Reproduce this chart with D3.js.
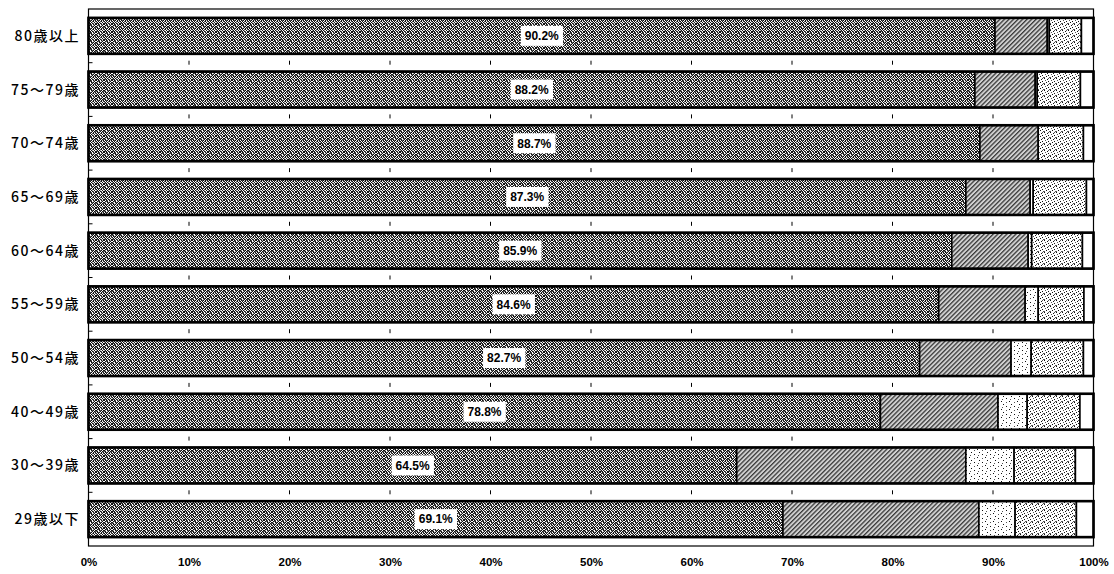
<!DOCTYPE html>
<html>
<head>
<meta charset="utf-8">
<script src="https://cdn.jsdelivr.net/npm/d3@7/dist/d3.min.js"></script>
<style>
  html, body { margin: 0; padding: 0; background: #fff; }
  svg { display: block; }
</style>
</head>
<body>
<svg id="chart" width="1114" height="574"></svg>
<script>
// Age groups, top to bottom
const categories = ["80歳以上", "75～79歳", "70～74歳", "65～69歳", "60～64歳",
                    "55～59歳", "50～54歳", "40～49歳", "30～39歳", "29歳以下"];

// Share of each response (%) per age group, left to right in each bar
const share1 = [90.2, 88.2, 88.7, 87.3, 85.9, 84.6, 82.7, 78.8, 64.5, 69.1];
const share2 = [5.2, 6.0, 5.8, 6.4, 7.6, 8.6, 9.1, 11.7, 22.8, 19.5];
const share3 = [0.2, 0.2, 0.0, 0.3, 0.35, 1.3, 2.0, 2.9, 4.8, 3.6];
const share4 = [3.2, 4.3, 4.5, 5.3, 5.05, 4.55, 5.2, 5.25, 6.1, 6.1];
const share5 = [1.2, 1.3, 1.0, 0.7, 1.1, 0.95, 1.0, 1.35, 1.8, 1.7];

const tickValues = [0, 10, 20, 30, 40, 50, 60, 70, 80, 90, 100];
const tickLabels = ["0%", "10%", "20%", "30%", "40%", "50%", "60%", "70%", "80%", "90%", "100%"];

const seriesList = [share1, share2, share3, share4, share5];
const fills = ["url(#pDark)", "url(#pHatch)", "url(#pSparse)", "url(#pDense)", "#ffffff"];

const svg = d3.select("#chart");
const plot = { left: 88.5, right: 1093.5, top: 9, bottom: 546 };

const x = d3.scaleLinear().domain([0, 100]).range([plot.left, plot.right]);
const y = d3.scaleBand().domain(categories).range([plot.top, plot.bottom])
  .paddingInner(0.33).paddingOuter(0.165);

// ---- fill textures ----
const defs = svg.append("defs");

// builds a pixel pattern from rows of characters: '#' black, '+' dark grey, '-' light grey, '.' white
function pixelPattern(id, rows, bg) {
  const w = rows[0].length, h = rows.length;
  const p = defs.append("pattern").attr("id", id)
    .attr("patternUnits", "userSpaceOnUse").attr("width", w).attr("height", h);
  p.append("rect").attr("width", w).attr("height", h).attr("fill", bg);
  const shade = { "#": "#111", "+": "#555", "-": "#b0b0b0", ".": "#fff" };
  rows.forEach((r, j) => r.split("").forEach((ch, i) => {
    if (shade[ch]) p.append("rect").attr("x", i).attr("y", j)
      .attr("width", 1).attr("height", 1).attr("fill", shade[ch]);
  }));
}

// dark halftone
pixelPattern("pDark", [
  "#.#+.#-#",
  ".#+#.-#.",
  "#-.#+#.#",
  "+#.-#.#+",
  ".#+#.#-#",
  "#.#.+#.+",
  "-#.#-.#.",
  "#+#.#+.#"
], "#707070");

// sparse dots
pixelPattern("pSparse", [
  "........",
  ".#......",
  "......+.",
  "........",
  "...#....",
  "........",
  "......#.",
  "..+....."
], "#fff");

// denser dots
pixelPattern("pDense", [
  "#...+.",
  "...#..",
  ".+....",
  "....#.",
  "..#...",
  "+....+"
], "#fff");

// diagonal hatching
const ph = defs.append("pattern").attr("id", "pHatch")
  .attr("patternUnits", "userSpaceOnUse").attr("width", 3.2).attr("height", 3.2)
  .attr("patternTransform", "rotate(45)");
ph.append("rect").attr("width", 3.2).attr("height", 3.2).attr("fill", "#d2d2d2");
ph.append("rect").attr("x", 0).attr("width", 1.3).attr("height", 3.2).attr("fill", "#3a3a3a");

// ---- plot frame ----
svg.append("rect")
  .attr("x", plot.left).attr("y", plot.top)
  .attr("width", plot.right - plot.left).attr("height", plot.bottom - plot.top)
  .attr("fill", "none").attr("stroke", "#000").attr("stroke-width", 1.2);

// small marks on band boundaries
const boundaries = categories.slice(1).map(c => y(c) - y.step() * y.paddingInner() / 2);
const marks = svg.append("g");
boundaries.forEach(by => {
  tickValues.slice(1, -1).forEach(v => {
    marks.append("line")
      .attr("x1", x(v)).attr("x2", x(v)).attr("y1", by - 2).attr("y2", by + 2)
      .attr("stroke", "#000").attr("stroke-width", 1);
  });
  marks.append("line")
    .attr("x1", plot.left).attr("x2", plot.left + 4).attr("y1", by).attr("y2", by)
    .attr("stroke", "#000").attr("stroke-width", 1);
});

// ---- stacked bars ----
const stacked = categories.map((c, i) => {
  let acc = 0;
  return seriesList.map((s, k) => {
    const seg = { cat: c, k, x0: acc, x1: acc + s[i] };
    acc += s[i];
    return seg;
  });
});

const rows = svg.append("g").selectAll("g").data(stacked).join("g");
rows.selectAll("rect.seg").data(d => d.filter(s => s.x1 - s.x0 > 0)).join("rect")
  .attr("class", "seg")
  .attr("x", d => x(d.x0)).attr("y", d => y(d.cat))
  .attr("width", d => x(d.x1) - x(d.x0)).attr("height", y.bandwidth())
  .attr("fill", d => fills[d.k])
  .attr("stroke", "#000").attr("stroke-width", 1.6);

// bar outlines
svg.append("g").selectAll("rect").data(categories).join("rect")
  .attr("x", x(0)).attr("y", d => y(d))
  .attr("width", x(100) - x(0)).attr("height", y.bandwidth())
  .attr("fill", "none").attr("stroke", "#000").attr("stroke-width", 2.6);

// value labels on the first segment
const lab = svg.append("g").selectAll("g").data(categories).join("g")
  .attr("transform", (d, i) => `translate(${x(share1[i] / 2)},${y(d) + y.bandwidth() / 2})`);
lab.append("text")
  .attr("text-anchor", "middle").attr("dy", "0.36em")
  .attr("font-family", "Liberation Sans, Arial, sans-serif")
  .attr("font-size", 12).attr("font-weight", "bold")
  .attr("fill", "#000")
  .text((d, i) => share1[i].toFixed(1) + "%");
lab.each(function () {
  const g = d3.select(this);
  const bb = g.select("text").node().getBBox();
  g.insert("rect", "text")
    .attr("x", bb.x - 4).attr("y", -10)
    .attr("width", bb.width + 8).attr("height", 20)
    .attr("fill", "#fff");
});

// ---- category axis labels ----
svg.append("g").selectAll("text").data(categories).join("text")
  .attr("x", 80).attr("y", d => y(d) + y.bandwidth() / 2)
  .attr("dy", "0.36em").attr("text-anchor", "end")
  .attr("font-family", "Noto Sans CJK JP, sans-serif")
  .attr("font-size", 14).attr("font-weight", 500)
  .attr("letter-spacing", "1.5px")
  .attr("fill", "#000")
  .text(d => d);

// ---- percentage axis ----
const xAxis = d3.axisBottom(x).tickValues(tickValues)
  .tickFormat((d, i) => tickLabels[i]).tickSize(0).tickPadding(12);
const ax = svg.append("g").attr("transform", `translate(0,${plot.bottom})`).call(xAxis);
ax.select(".domain").remove();
ax.selectAll("text")
  .attr("font-family", "Liberation Sans, Arial, sans-serif")
  .attr("font-size", 11.5).attr("font-weight", "bold").attr("fill", "#000");
</script>
</body>
</html>
